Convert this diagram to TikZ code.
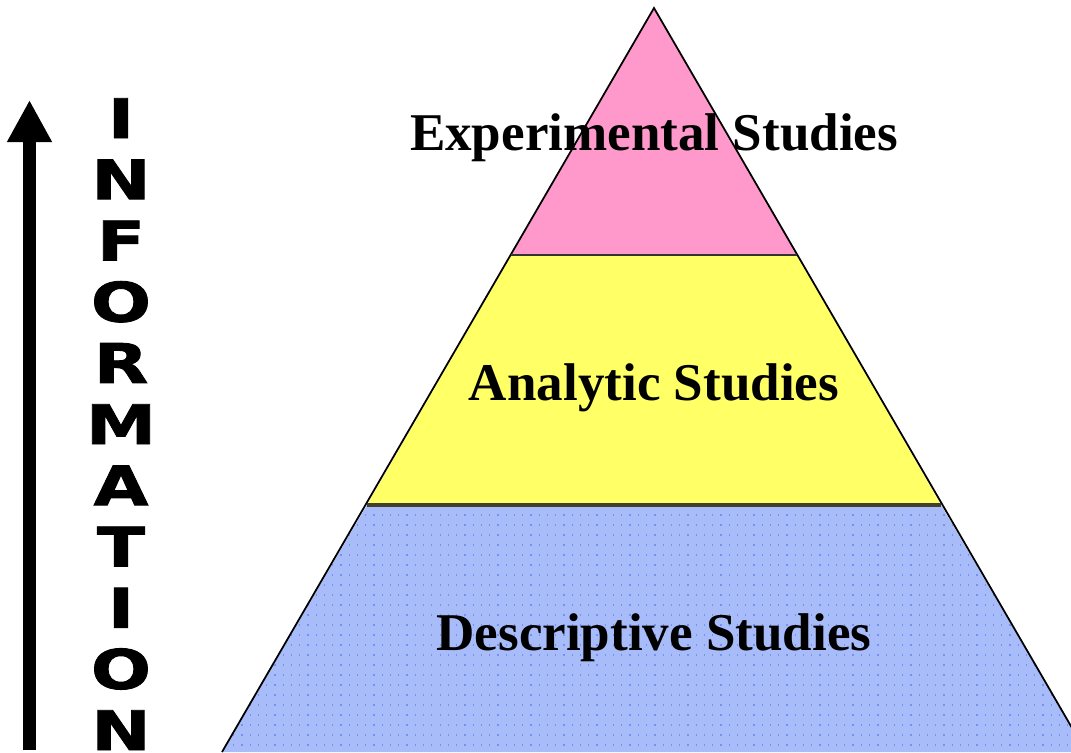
\documentclass[tikz,border=0pt]{standalone}
\usepackage{fontspec}
\setmainfont{Liberation Serif}
\newfontfamily\blockfont[FakeStretch=1.3,FakeBold=1.6]{DejaVu Sans}
\usetikzlibrary{arrows.meta}
\definecolor{toppink}{RGB}{255,153,204}
\definecolor{midyellow}{RGB}{255,255,102}
\definecolor{lowblue}{RGB}{168,188,250}
\definecolor{lowgrain}{RGB}{118,146,240}
\begin{document}
\begin{tikzpicture}[
  level/.style={font=\bfseries\fontsize{15.1}{17}\selectfont, anchor=base},
  letter/.style={font=\blockfont\bfseries\fontsize{15.5}{16}\selectfont, anchor=base, inner sep=0pt}]
\useasboundingbox (0,0) rectangle (10.71,7.52);
\clip (0,0) rectangle (10.71,7.52);
% Corners of the bands
\coordinate (apex) at (6.54,7.44);
\coordinate (l1) at (5.11,4.97); \coordinate (r1) at (7.97,4.97);
\coordinate (l2) at (3.67,2.47); \coordinate (r2) at (9.41,2.47);
\coordinate (l3) at (2.22,0);    \coordinate (r3) at (10.86,0);
% Bands
\fill[toppink] (apex) -- (l1) -- (r1) -- cycle;
\fill[midyellow] (l1) -- (l2) -- (r2) -- (r1) -- cycle;
\fill[lowblue] (l2) -- (l3) -- (r3) -- (r2) -- cycle;
\begin{scope}
\clip (l2) -- (l3) -- (r3) -- (r2) -- cycle;
\foreach \k in {1,...,25} {\draw[lowgrain, line width=0.35pt, dotted] (2,{\k*0.1-0.03}) -- (11,{\k*0.1-0.03});}
\end{scope}
% Outline
\draw[line width=0.5pt] (l3) -- (apex) -- (r3);
\draw[line width=0.5pt, black!80] (l1) -- (r1);
\draw[line width=1.2pt, black!70!olive] (l2) -- (r2);
% Labels
\node[level] (exp) at (6.54,6.02) {Experimental Studies};
\node[level] (ana) at (6.54,3.52) {Analytic Studies};
\node[level] (des) at (6.54,1.02) {Descriptive Studies};
% Arrow and word
\coordinate (tail) at (0.295,0.02);
\coordinate (tip) at (0.295,6.52);
\draw[line width=0.13cm, -{Triangle[length=0.42cm,width=0.42cm]}] (tail) -- (tip);
\foreach \ch [count=\i from 0] in {I,N,F,O,R,M,A,T,I,O,N}
  {\node[letter] (ch\i) at (1.21,{6.14-0.612*\i}) {\ch};}
\end{tikzpicture}
\end{document}
